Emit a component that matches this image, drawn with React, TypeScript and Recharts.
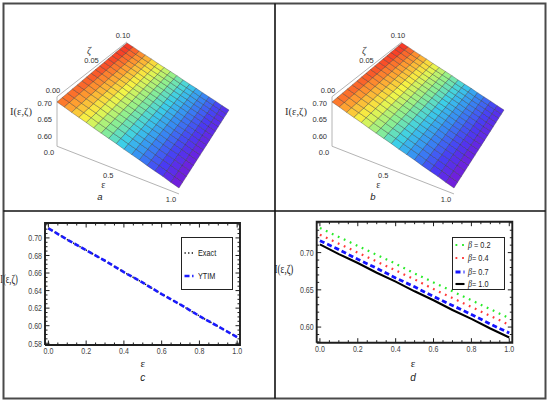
import React from "react";
import {
  ScatterChart,
  Scatter,
  LineChart,
  Line,
  XAxis,
  YAxis,
  Legend,
} from "recharts";

// ---------- panels a / b : surface I(ε,ζ) on a 17 x 17 mesh ----------
const surfEps = [
  0, 0.0625, 0.125, 0.1875, 0.25, 0.3125, 0.375, 0.4375, 0.5, 0.5625, 0.625,
  0.6875, 0.75, 0.8125, 0.875, 0.9375, 1,
];
const surfZeta = [
  0, 0.00625, 0.0125, 0.01875, 0.025, 0.03125, 0.0375, 0.04375, 0.05, 0.05625,
  0.0625, 0.06875, 0.075, 0.08125, 0.0875, 0.09375, 0.1,
];
// I along ε at ζ = 0, and the small rise of I with ζ
const surfIAtZeta0 = [
  0.704, 0.697, 0.689, 0.682, 0.675, 0.667, 0.66, 0.653, 0.646, 0.638, 0.631,
  0.624, 0.616, 0.609, 0.602, 0.594, 0.587,
];
const surfZetaRise = [
  0, 0.0008, 0.0015, 0.0023, 0.003, 0.0038, 0.0045, 0.0053, 0.006, 0.0068,
  0.0075, 0.0083, 0.009, 0.0098, 0.0105, 0.0113, 0.012,
];
const boxIRange = [0.57, 0.72];

const zetaTickVals = [0, 0.05, 0.1];
const zetaTickText = ["0.00", "0.05", "0.10"];
const iTickVals3d = [0.6, 0.65, 0.7];
const iTickText3d = ["0.60", "0.65", "0.70"];
const epsTickVals3d = [0, 0.5, 1];
const epsTickText3d = ["0.0", "0.5", "1.0"];

// ---------- panel c ----------
const epsLine = [0, 0.1, 0.2, 0.3, 0.4, 0.5, 0.6, 0.7, 0.8, 0.9, 1];
const exactC = [0.711, 0.698, 0.686, 0.674, 0.661, 0.649, 0.636, 0.624, 0.611, 0.599, 0.587];
const ytimC = [0.711, 0.698, 0.686, 0.674, 0.661, 0.649, 0.636, 0.624, 0.611, 0.599, 0.587];

// ---------- panel d ----------
const beta02 = [0.733, 0.721, 0.709, 0.697, 0.685, 0.672, 0.66, 0.648, 0.636, 0.624, 0.612];
const beta04 = [0.724, 0.712, 0.7, 0.688, 0.676, 0.664, 0.651, 0.639, 0.627, 0.615, 0.603];
const beta07 = [0.716, 0.704, 0.691, 0.679, 0.666, 0.654, 0.641, 0.629, 0.617, 0.604, 0.592];
const beta10 = [0.711, 0.698, 0.686, 0.673, 0.661, 0.648, 0.636, 0.623, 0.611, 0.598, 0.586];

const dataC = epsLine.map((e, i) => ({ eps: e, exact: exactC[i], ytim: ytimC[i] }));
const dataD = epsLine.map((e, i) => ({
  eps: e,
  b02: beta02[i],
  b04: beta04[i],
  b07: beta07[i],
  b10: beta10[i],
}));

const seriesC = [
  { key: "exact", name: "Exact", color: "#111111", width: 1.5, dash: "1.3 2.3" },
  { key: "ytim", name: "YTIM", color: "#1a1aff", width: 2.6, dash: "5 2.6" },
];
const seriesD = [
  { key: "b02", name: "β = 0.2", color: "#2bea2b", width: 2.2, dash: "1.8 4.8" },
  { key: "b04", name: "β= 0.4", color: "#ff3a3a", width: 2.2, dash: "1.8 4.8" },
  { key: "b07", name: "β= 0.7", color: "#1515ff", width: 2.8, dash: "5 3" },
  { key: "b10", name: "β= 1.0", color: "#000000", width: 2.1, dash: undefined },
];

const FRAME = "#1e1e1e";
const SANS = '"Liberation Sans", Arial, sans-serif';
const SERIF = '"Liberation Serif", "Times New Roman", serif';

// perspective view of the 3D box (plane homography + vertical drop)
const VIEW = {
  a: 112.53, b: 98.19, c: 57,
  d: 76.06, e: -49.45, f: 102,
  g: -0.05289, h: 0.222,
  k: 330,
  ref: [0.704, -0.117, 0.012],
};

function project(eps: number, zeta: number, I: number) {
  const X = eps;
  const Y = zeta / 0.1;
  const w = 1 + VIEW.g * X + VIEW.h * Y;
  const u = (VIEW.a * X + VIEW.b * Y + VIEW.c) / w;
  const vPlane = (VIEW.d * X + VIEW.e * Y + VIEW.f) / w;
  const Iref = VIEW.ref[0] + VIEW.ref[1] * X + VIEW.ref[2] * Y;
  return { u, v: vPlane + ((Iref - I) * VIEW.k) / w };
}

const RAINBOW: [number, string][] = [
  [0, "#7a18d6"],
  [0.15, "#4a3af4"],
  [0.3, "#368cf4"],
  [0.43, "#3ccfe8"],
  [0.56, "#8ef090"],
  [0.7, "#f6f545"],
  [0.83, "#ff9f30"],
  [1, "#f62424"],
];

function hexRgb(h: string) {
  return [1, 3, 5].map((i) => parseInt(h.slice(i, i + 2), 16));
}

function rainbow(t: number) {
  const tt = Math.max(0, Math.min(1, t));
  for (let k = 1; k < RAINBOW.length; k++) {
    const [t1, c1] = RAINBOW[k];
    const [t0, c0] = RAINBOW[k - 1];
    if (tt <= t1) {
      const f = (tt - t0) / (t1 - t0);
      const a = hexRgb(c0);
      const b = hexRgb(c1);
      const m = a.map((x, i) => Math.round(x + (b[i] - x) * f));
      return `rgb(${m[0]},${m[1]},${m[2]})`;
    }
  }
  return RAINBOW[RAINBOW.length - 1][1];
}

const noMark = () => <g />;

const LabelMark = (p: any) => {
  const d = p.payload;
  return (
    <text
      x={p.cx}
      y={p.cy}
      textAnchor={d.anchor}
      dominantBaseline="central"
      fontSize={d.size}
      fontFamily={d.font}
      fontStyle={d.italic ? "italic" : "normal"}
      fill="#333"
    >
      {d.text}
    </text>
  );
};

const W3 = 275;
const H3 = 211;

function SurfacePanel() {
  const nE = surfEps.length;
  const verts: { u: number; v: number; I: number }[] = [];
  surfZeta.forEach((z, j) =>
    surfEps.forEach((e, i) => {
      const I = surfIAtZeta0[i] + surfZetaRise[j];
      verts.push({ ...project(e, z, I), I });
    })
  );
  const Is = verts.map((p) => p.I);
  const Imin = Math.min(...Is);
  const Imax = Math.max(...Is);

  // the scatter hands over every vertex in pixels; draw the mesh cells from them
  const drawSurface = (props: any) => {
    const pts = props.points || [];
    if (pts.length < verts.length) return <g />;
    const cells: React.ReactNode[] = [];
    for (let j = 0; j < surfZeta.length - 1; j++) {
      for (let i = 0; i < nE - 1; i++) {
        const ids = [j * nE + i, j * nE + i + 1, (j + 1) * nE + i + 1, (j + 1) * nE + i];
        const avg = ids.reduce((s, id) => s + verts[id].I, 0) / 4;
        const t = (avg - Imin) / (Imax - Imin);
        cells.push(
          <polygon
            key={`${i}-${j}`}
            points={ids.map((id) => `${pts[id].x},${pts[id].y}`).join(" ")}
            fill={rainbow(t)}
            stroke="rgba(40,40,40,0.6)"
            strokeWidth={0.55}
            strokeLinejoin="round"
          />
        );
      }
    }
    return <g>{cells}</g>;
  };

  const [lo, hi] = boxIRange;
  const edges = [
    [project(0, 0, lo), project(0, 0, hi)],
    [project(0, 0, lo), project(1, 0, lo)],
    [project(0, 0, hi), project(0, 0.1, hi)],
  ];

  const labels: any[] = [];
  zetaTickVals.forEach((z, k) => {
    const p = project(0, z, hi);
    labels.push({ u: p.u - 4, v: p.v - 6, text: zetaTickText[k], anchor: "middle", size: 7.5, font: SANS });
  });
  iTickVals3d.forEach((I, k) => {
    const p = project(0, 0, I);
    labels.push({ u: p.u - 5, v: p.v, text: iTickText3d[k], anchor: "end", size: 7.5, font: SANS });
  });
  epsTickVals3d.forEach((e, k) => {
    const p = project(e, 0, lo);
    labels.push({ u: p.u - 8, v: p.v + 6, text: epsTickText3d[k], anchor: "middle", size: 7.5, font: SANS });
  });
  const zl = project(0, 0.05, hi);
  labels.push({ u: zl.u - 6.5, v: zl.v - 16.5, text: "ζ", anchor: "middle", size: 10, font: SERIF, italic: true });
  const il = project(0, 0, 0.675);
  labels.push({ u: il.u - 36, v: il.v, text: "I(ε,ζ)", anchor: "middle", size: 10.5, font: SERIF });
  const el = project(0.5, 0, lo);
  labels.push({ u: el.u - 13, v: el.v + 15, text: "ε", anchor: "middle", size: 10, font: SERIF });

  return (
    <ScatterChart width={W3} height={H3} margin={{ top: 0, right: 0, bottom: 0, left: 0 }}>
      <XAxis type="number" dataKey="u" domain={[0, W3]} allowDataOverflow hide />
      <YAxis type="number" dataKey="v" domain={[0, H3]} allowDataOverflow reversed hide />
      {edges.map((seg, k) => (
        <Scatter
          key={`edge${k}`}
          data={seg}
          shape={noMark}
          line={{ stroke: "#b4b4b4", strokeWidth: 1 }}
          isAnimationActive={false}
        />
      ))}
      <Scatter data={verts} shape={noMark} line={drawSurface} isAnimationActive={false} />
      <Scatter data={labels} shape={LabelMark} isAnimationActive={false} />
    </ScatterChart>
  );
}

// ---------- framed 2D panels ----------
function steps(from: number, to: number, step: number) {
  const out: number[] = [];
  for (let v = from; v <= to + 1e-9; v += step) out.push(Math.round(v * 1e6) / 1e6);
  return out;
}

function FrameTick(props: any) {
  const { payload, side, majors, digits } = props;
  const x = Number(props.x);
  const y = Number(props.y);
  const v = Number(payload?.value);
  const isMajor = majors.some((m: number) => Math.abs(m - v) < 1e-7);
  const len = isMajor ? 4.5 : 2.5;
  const dx = side === "left" ? len : side === "right" ? -len : 0;
  const dy = side === "bottom" ? -len : side === "top" ? len : 0;
  return (
    <g>
      <path d={`M${x},${y}L${x + dx},${y + dy}`} stroke={FRAME} strokeWidth={1} fill="none" />
      {isMajor && side === "bottom" && (
        <text
          transform={`translate(${x},${y + 8.8}) scale(0.76,1)`}
          textAnchor="middle"
          fontSize={9.3}
          fontFamily={SANS}
          fill="#444"
        >
          {v.toFixed(digits)}
        </text>
      )}
      {isMajor && side === "left" && (
        <text
          transform={`translate(${x - 3},${y + 3.3}) scale(0.76,1)`}
          textAnchor="end"
          fontSize={9.3}
          fontFamily={SANS}
          fill="#444"
        >
          {v.toFixed(digits)}
        </text>
      )}
    </g>
  );
}

type FrameCfg = {
  xDomain: number[];
  yDomain: number[];
  xMajor: number[];
  xTicks: number[];
  yMajor: number[];
  yTicks: number[];
  yWidth: number;
};

function frameAxes(c: FrameCfg) {
  const common = {
    type: "number" as const,
    interval: 0 as const,
    tickSize: 0,
    tickMargin: 0,
    tickLine: false,
    axisLine: false,
  };
  const [x0, x1] = c.xDomain;
  const [y0, y1] = c.yDomain;
  // the plot frame, drawn as a closed series on the mirrored axes
  const frameData = [
    { eps: x0, y: y0 },
    { eps: x0, y: y1 },
    { eps: x1, y: y1 },
    { eps: x1, y: y0 },
    { eps: x0, y: y0 },
  ];
  return [
    <XAxis key="xb" dataKey="eps" domain={c.xDomain} allowDataOverflow ticks={c.xTicks} height={20} {...common}
      tick={(p: any) => <FrameTick {...p} side="bottom" majors={c.xMajor} digits={1} />} />,
    <XAxis key="xt" xAxisId="top" dataKey="eps" orientation="top" domain={c.xDomain} ticks={c.xTicks} height={2} {...common}
      tick={(p: any) => <FrameTick {...p} side="top" majors={c.xMajor} digits={1} />} />,
    <YAxis key="yl" domain={c.yDomain} allowDataOverflow ticks={c.yTicks} width={c.yWidth} {...common}
      tick={(p: any) => <FrameTick {...p} side="left" majors={c.yMajor} digits={2} />} />,
    <YAxis key="yr" yAxisId="right" orientation="right" domain={c.yDomain} ticks={c.yTicks} width={2} {...common}
      tick={(p: any) => <FrameTick {...p} side="right" majors={c.yMajor} digits={2} />} />,
    <Line key="frame" xAxisId="top" yAxisId="right" data={frameData} dataKey="y" type="linear"
      stroke={FRAME} strokeWidth={1.9} dot={false} legendType="none" isAnimationActive={false} />,
  ];
}

function LegendBox({
  series,
  rows,
  width,
  height,
}: {
  series: { name: string; color: string; width: number; dash?: string }[];
  rows: number[];
  width: number;
  height: number;
}) {
  return (
    <div
      style={{
        width,
        height,
        border: "1px solid #222",
        background: "#fff",
        boxSizing: "border-box",
        position: "relative",
      }}
    >
      {series.map((s, k) => {
        const isBeta = s.name.startsWith("β");
        return (
          <div
            key={k}
            style={{
              position: "absolute",
              left: 2,
              top: rows[k] - 5,
              height: 10,
              display: "flex",
              alignItems: "center",
              whiteSpace: "nowrap",
            }}
          >
            <svg width={10} height={10} style={{ display: "block" }}>
              <line x1={0.5} y1={5} x2={9.5} y2={5} stroke={s.color} strokeWidth={s.width} strokeDasharray={s.dash} />
            </svg>
            <span
              style={{
                fontSize: 8.6,
                fontFamily: SANS,
                color: "#222",
                marginLeft: 3.5,
                display: "inline-block",
                transform: "scaleX(0.85)",
                transformOrigin: "left center",
              }}
            >
              {isBeta ? (
                <>
                  <span style={{ fontFamily: SERIF, fontStyle: "italic", fontSize: 9.5 }}>β</span>
                  {s.name.slice(1)}
                </>
              ) : (
                s.name
              )}
            </span>
          </div>
        );
      })}
    </div>
  );
}

const xMajor2d = steps(0, 1, 0.2);
const xTicks2d = steps(0, 1, 0.05);

function PanelC() {
  return (
    <LineChart width={275} height={191} data={dataC} margin={{ top: 10, right: 33, bottom: 37, left: 0 }}>
      {frameAxes({
        xDomain: [-0.018, 1.015],
        yDomain: [0.578, 0.717],
        xMajor: xMajor2d,
        xTicks: xTicks2d,
        yMajor: steps(0.58, 0.7, 0.02),
        yTicks: steps(0.58, 0.715, 0.005),
        yWidth: 45,
      })}
      <Legend
        layout="horizontal"
        verticalAlign="middle"
        align="center"
        wrapperStyle={{ position: "absolute", left: 181, top: 25.7, width: 52, height: 53, margin: 0, padding: 0 }}
        content={() => <LegendBox series={seriesC} rows={[15, 38.6]} width={52} height={53} />}
      />
      {seriesC.map((s) => (
        <Line
          key={s.key}
          type="linear"
          dataKey={s.key}
          name={s.name}
          stroke={s.color}
          strokeWidth={s.width}
          strokeDasharray={s.dash}
          dot={false}
          isAnimationActive={false}
        />
      ))}
    </LineChart>
  );
}

function PanelD() {
  return (
    <LineChart width={275} height={191} data={dataD} margin={{ top: 8.7, right: 35.7, bottom: 39.3, left: 0 }}>
      {frameAxes({
        xDomain: [-0.017, 1.016],
        yDomain: [0.579, 0.7415],
        xMajor: xMajor2d,
        xTicks: xTicks2d,
        yMajor: [0.6, 0.65, 0.7],
        yTicks: steps(0.58, 0.74, 0.01),
        yWidth: 41.7,
      })}
      <Legend
        layout="horizontal"
        verticalAlign="middle"
        align="center"
        wrapperStyle={{ position: "absolute", left: 176.7, top: 25.7, width: 53.5, height: 53.5, margin: 0, padding: 0 }}
        content={() => <LegendBox series={seriesD} rows={[7.8, 20.8, 34, 46.6]} width={53.5} height={53.5} />}
      />
      {seriesD.map((s) => (
        <Line
          key={s.key}
          type="linear"
          dataKey={s.key}
          name={s.name}
          stroke={s.color}
          strokeWidth={s.width}
          strokeDasharray={s.dash}
          dot={false}
          isAnimationActive={false}
        />
      ))}
    </LineChart>
  );
}

function Txt({
  x,
  y,
  children,
  size = 10,
  font = SERIF,
  italic = false,
  sx = 1,
}: {
  x: number;
  y: number;
  children: React.ReactNode;
  size?: number;
  font?: string;
  italic?: boolean;
  sx?: number;
}) {
  return (
    <div
      style={{
        position: "absolute",
        left: x,
        top: y,
        transform: `translate(-50%, -50%) scaleX(${sx})`,
        fontSize: size,
        fontFamily: font,
        fontStyle: italic ? "italic" : "normal",
        color: "#222",
        whiteSpace: "nowrap",
        lineHeight: 1,
      }}
    >
      {children}
    </div>
  );
}

export default function App() {
  return (
    <div
      style={{
        position: "absolute",
        left: 0,
        top: 0,
        width: 550,
        height: 402,
        background: "#fff",
        overflow: "hidden",
      }}
    >
      <div style={{ position: "absolute", left: 0, top: 0 }}>
        <SurfacePanel />
      </div>
      <div style={{ position: "absolute", left: 275, top: 0 }}>
        <SurfacePanel />
      </div>
      <div style={{ position: "absolute", left: 0, top: 211 }}>
        <PanelC />
      </div>
      <div style={{ position: "absolute", left: 275, top: 211 }}>
        <PanelD />
      </div>

      <Txt x={100} y={197} size={9.5} font={SANS} italic>a</Txt>
      <Txt x={373} y={197} size={9.5} font={SANS} italic>b</Txt>

      <Txt x={9} y={279} size={12.5} sx={0.68}>I(ε,ζ)</Txt>
      <Txt x={142.7} y={363} size={11}>ε</Txt>
      <Txt x={142.7} y={378} size={10} font={SANS} italic>c</Txt>

      <Txt x={284} y={269} size={12.5} sx={0.72}>I(ε,ζ)</Txt>
      <Txt x={413} y={363} size={11}>ε</Txt>
      <Txt x={413} y={378} size={10} font={SANS} italic>d</Txt>

      <svg
        width={550}
        height={402}
        style={{ position: "absolute", left: 0, top: 0, pointerEvents: "none" }}
      >
        <rect x={3.5} y={3.5} width={542} height={395} fill="none" stroke="#4a4a4a" strokeWidth={2} />
        <line x1={275} y1={3.5} x2={275} y2={398.5} stroke="#111" strokeWidth={1.6} />
        <line x1={3.5} y1={211} x2={545.5} y2={211} stroke="#111" strokeWidth={1.6} />
      </svg>
    </div>
  );
}
